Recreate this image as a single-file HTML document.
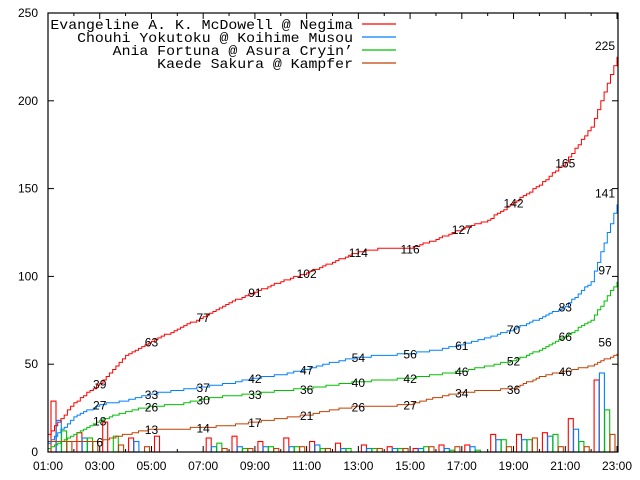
<!DOCTYPE html>
<html><head><meta charset="utf-8"><style>
html,body{margin:0;padding:0;background:#fff}
svg{display:block}
text{font-family:"Liberation Sans",sans-serif;font-size:12px;fill:#000}
.lg{font-family:"Liberation Mono",monospace;font-size:14px}
</style></head><body>
<svg id="s" width="640" height="480" xmlns="http://www.w3.org/2000/svg"></svg>
<script>
const s=document.getElementById('s');
const X0=48,X1=617,Y0=452,Y1=13;
const px=h=>X0+h*(X1-X0)/22, py=v=>Y0-v*(Y0-Y1)/250;
let o='';
const bars=[[29,18,12,6],[11,8,8,6],[17,0,9,4],[8,6,0,3],[9,0,0,0],[0,0,0,0],[8,3,5,2],[9,3,2,2],[6,3,3,2],[8,3,3,3],[6,4,2,2],[5,2,2,0],[4,2,2,2],[3,2,2,2],[2,2,3,3],[4,2,1,3],[4,3,1,0],[10,7,7,3],[10,7,7,8],[11,9,10,3],[19,13,6,3],[41,45,24,10],[0,0,0,0]];
const cols=['#ff0000','#0080ff','#00c000','#c04000'];
bars.forEach((b,h)=>{b.forEach((v,i)=>{if(v>0){const x=px(h)+3+i*5.3;o+=`<rect x="${x.toFixed(1)}" y="${py(v).toFixed(1)}" width="5" height="${(Y0-py(v)).toFixed(1)}" fill="none" stroke="${cols[i]}" stroke-width="1.1"/>`;}});});
const S=[
[10,28,39,55,63,70,77,85,91,97,102,108,114,116,116,121,127,132,142,152,165,185,225],
[5,20,27,29,33,35,37,39,42,44,47,51,54,55,56,58,61,65,70,76,83,97,141],
[2,10,18,23,26,27,30,32,33,35,36,38,40,41,42,44,46,49,52,58,66,75,97],
[6,6,6,10,13,13,14,15,17,19,21,24,26,26,27,31,34,35,36,43,46,49,56]];
S.forEach((d,i)=>{let pts=[];let prev=null;for(let k=0;k<=22*8;k++){const t=k/8;const h=Math.min(21,Math.floor(t));const f=t-h;const v=Math.round(d[h]+(d[h+1]-d[h])*f);const x=px(t).toFixed(1);if(prev!==null&&v!==prev)pts.push(x+','+py(prev).toFixed(1));pts.push(x+','+py(v).toFixed(1));prev=v;}
o+=`<polyline points="${pts.join(' ')}" fill="none" stroke="${cols[i]}" stroke-width="1"/>`;
for(let h=2;h<=20;h+=2)o+=`<text x="${px(h)}" y="${py(d[h])+5}" text-anchor="middle">${d[h]}</text>`;
o+=`<text x="${px(22)-12}" y="${py(d[22])-7}" text-anchor="middle">${d[22]}</text>`;});
o+=`<rect x="${X0}" y="${Y1}" width="${X1-X0+1}" height="${Y0-Y1}" fill="none" stroke="#000" stroke-width="1.2"/>`;
for(let v=0;v<=250;v+=50){const y=py(v);o+=`<line x1="${X0}" x2="${X0+6}" y1="${y}" y2="${y}" stroke="#000"/><line x1="${X1-5}" x2="${X1+1}" y1="${y}" y2="${y}" stroke="#000"/><text x="38" y="${y+4}" text-anchor="end">${v}</text>`;}
for(let h=0;h<=22;h++){const x=px(h),l=h%2==0?6:3;o+=`<line x1="${x}" x2="${x}" y1="${Y0}" y2="${Y0-l}" stroke="#000"/><line x1="${x}" x2="${x}" y1="${Y1}" y2="${Y1+l}" stroke="#000"/>`;if(h%2==0)o+=`<text x="${x}" y="470" text-anchor="middle">${String(h+1).padStart(2,'0')}:00</text>`;}
const L=['Evangeline A. K. McDowell @ Negima','Chouhi Yokutoku @ Koihime Musou','Ania Fortuna @ Asura Cryin’','Kaede Sakura @ Kampfer'];
L.forEach((t,i)=>{const y=24+i*13;o+=`<text class="lg" x="353" y="${y+5}" text-anchor="end" textLength="${t.length*8.9}" lengthAdjust="spacingAndGlyphs">${t}</text><line x1="362" x2="396" y1="${y}" y2="${y}" stroke="${cols[i]}" stroke-width="1.2"/>`;});
s.innerHTML=o;
</script>
</body></html>
